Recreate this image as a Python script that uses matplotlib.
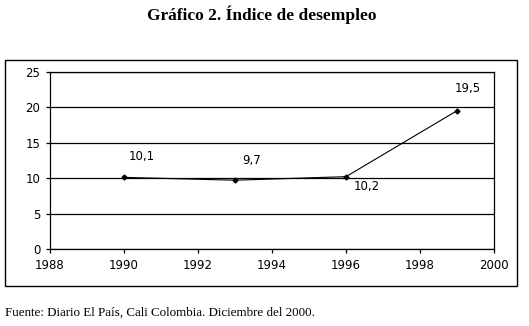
import matplotlib
matplotlib.use("Agg")
import matplotlib.pyplot as plt
from matplotlib.patches import Rectangle

years = [1990, 1993, 1996, 1999]
values = [10.1, 9.7, 10.2, 19.5]
labels = ["10,1", "9,7", "10,2", "19,5"]
xticks = [1988, 1990, 1992, 1994, 1996, 1998, 2000]
yticks = [0, 5, 10, 15, 20, 25]

W, H = 529, 326
fig = plt.figure(figsize=(W / 100, H / 100), dpi=100)
ax = fig.add_axes([50 / W, 1 - 249 / H, (494 - 50) / W, (249 - 71.7) / H])

ax.plot(years, values, color="black", lw=0.8, marker="D", ms=2.5, zorder=3)
ax.set_xlim(1988, 2000)
ax.set_ylim(0, 25)
ax.set_xticks(xticks)
ax.set_yticks(yticks)
ax.yaxis.grid(True, color="black", lw=0.9)
ax.set_axisbelow(True)
for s in ax.spines.values():
    s.set_color("black")
    s.set_linewidth(0.9)
ax.tick_params(axis="both", direction="out", length=3, width=0.9, colors="black",
               labelsize=8.5, pad=4)

offsets = [(18, 21), (17, 20), (21, -10), (11, 22)]
for x, y, t, (dx, dy) in zip(years, values, labels, offsets):
    ax.annotate(t, (x, y), xytext=(dx, dy), textcoords="offset pixels",
                ha="center", va="center", fontsize=8.5)

fig.add_artist(Rectangle((5 / W, 1 - 286 / H), (517 - 5) / W, (286 - 60) / H,
                         transform=fig.transFigure, fill=False, ec="black", lw=1))

fig.text(262 / W, 1 - 15 / H, "Gráfico 2. Índice de desempleo", ha="center", va="center",
         fontsize=12.5, fontweight="bold", family="Liberation Serif")
fig.text(5 / W, 1 - 313 / H, "Fuente: Diario El País, Cali Colombia. Diciembre del 2000.",
         ha="left", va="center", fontsize=9.4, family="Liberation Serif")

fig.savefig("out.png", dpi=100)
